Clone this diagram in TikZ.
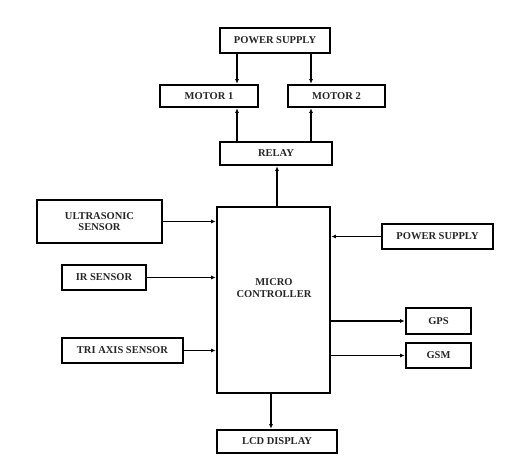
\documentclass[tikz,border=0pt]{standalone}
\usepackage{fontspec}
\setmainfont{Liberation Serif}
\usetikzlibrary{arrows.meta}
\begin{document}
\begin{tikzpicture}[x=1pt,y=-1pt,
  blk/.style={draw=black,line width=2.6pt,inner sep=0pt,align=center,
    font=\fontsize{10.5}{11.5}\selectfont\bfseries,text=black!85},
  arr/.style={line width=1.5pt,-{Latex[length=4.5pt,width=4pt]}}]
\useasboundingbox (0,0) rectangle (507,461);
\node[blk,minimum width=110,minimum height=25] (ps) at (275,40.5) {POWER SUPPLY};
\node[blk,minimum width=98,minimum height=22] (m1) at (209,96) {MOTOR 1};
\node[blk,minimum width=97,minimum height=22] (m2) at (336.5,96) {MOTOR 2};
\node[blk,minimum width=112,minimum height=23] (relay) at (276,153.5) {RELAY};
\node[blk,minimum width=113,minimum height=186] (mc) at (273.5,300) {};
\node[font=\fontsize{10.5}{11.5}\selectfont\bfseries,text=black!85,align=center] (mct) at (274,288) {MICRO\\CONTROLLER};
\node[blk,minimum width=125,minimum height=43] (us) at (99.5,221.5) {ULTRASONIC\\SENSOR};
\node[blk,minimum width=84,minimum height=25] (ir) at (104,277.5) {IR SENSOR};
\node[blk,minimum width=121,minimum height=25] (tri) at (122.5,350.5) {TRI AXIS SENSOR};
\node[blk,minimum width=111,minimum height=25] (psr) at (437.5,236.5) {POWER SUPPLY};
\node[blk,minimum width=65,minimum height=26] (gps) at (438.5,321) {GPS};
\node[blk,minimum width=65,minimum height=25] (gsm) at (438.5,355.5) {GSM};
\node[blk,minimum width=120,minimum height=23] (lcd) at (277,441.5) {LCD DISPLAY};
\coordinate (xa) at (237,0);
\coordinate (xb) at (311,0);
\coordinate (xr) at (277,0);
\coordinate (xl) at (271,0);
\draw[arr] (ps.south -| xa) -- (m1.north -| xa);
\draw[arr] (ps.south -| xb) -- (m2.north -| xb);
\draw[arr] (relay.north -| xa) -- (m1.south -| xa);
\draw[arr] (relay.north -| xb) -- (m2.south -| xb);
\draw[arr] (mc.north -| xr) -- (relay.south -| xr);
\draw[arr] (mc.south -| xl) -- (lcd.north -| xl);
\draw[arr] (us.east) -- (us.east -| mc.west);
\draw[arr] (ir.east) -- (ir.east -| mc.west);
\draw[arr] (tri.east) -- (tri.east -| mc.west);
\draw[arr] (psr.west) -- (psr.west -| mc.east);
\draw[arr] (gps.west -| mc.east) -- (gps.west);
\draw[arr] (gsm.west -| mc.east) -- (gsm.west);
\end{tikzpicture}
\end{document}
